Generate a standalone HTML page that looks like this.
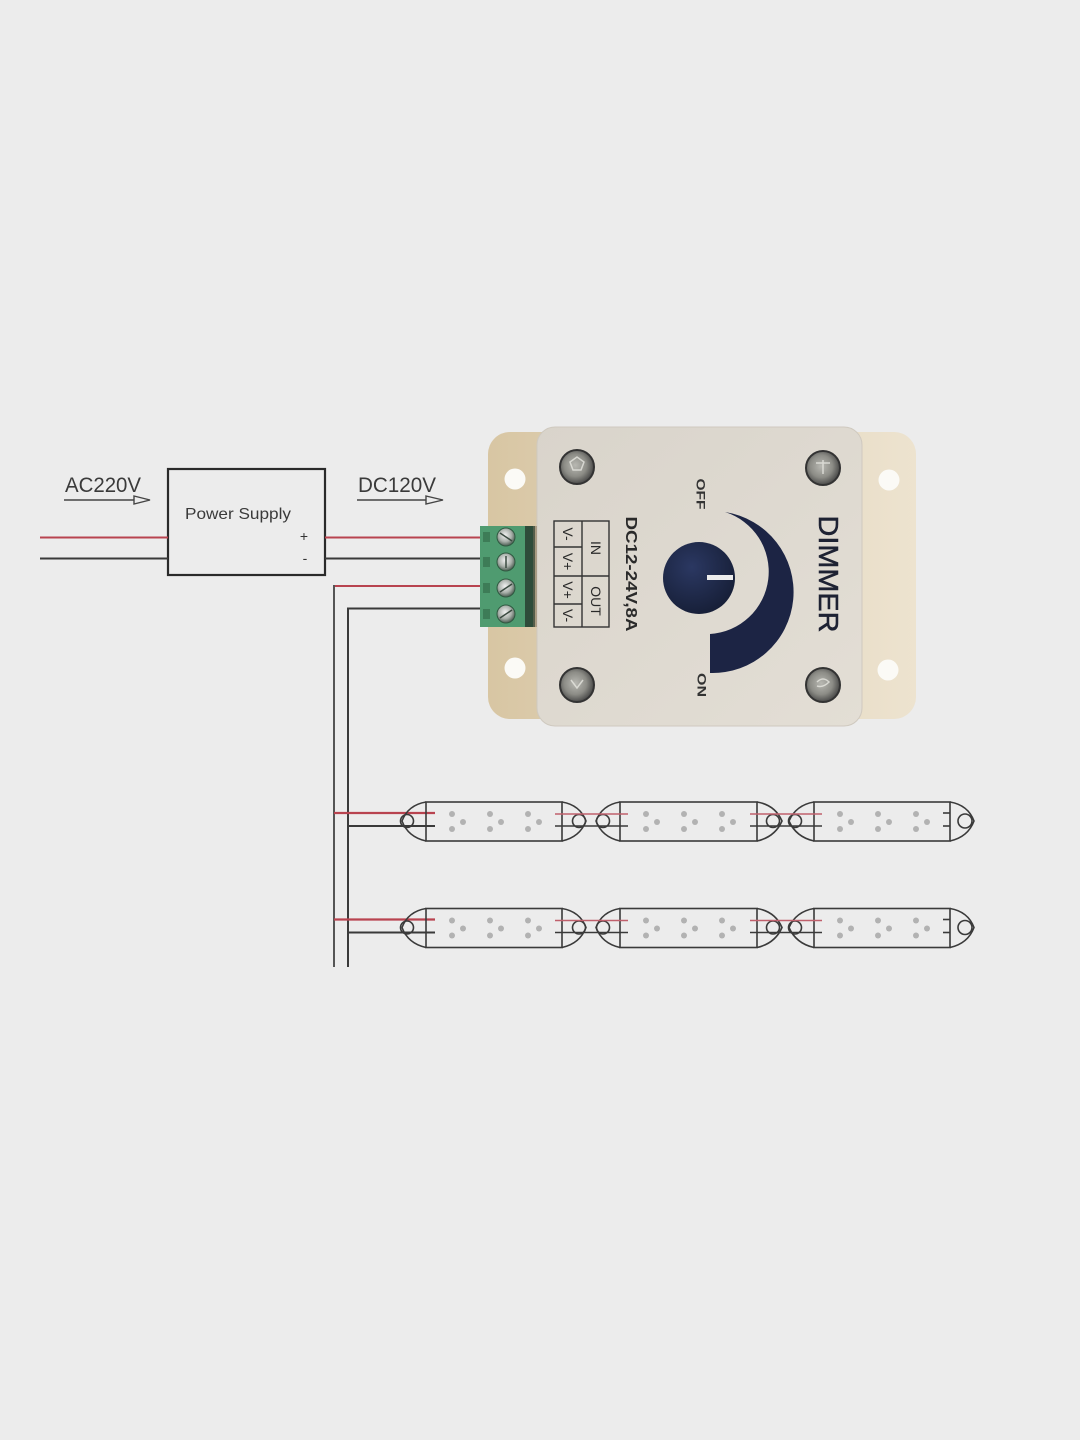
<!DOCTYPE html>
<html><head><meta charset="utf-8"><style>
html,body{margin:0;padding:0;background:#ececec;}
svg{display:block;}
text{font-family:"Liberation Sans",Arial,sans-serif;}
</style></head><body>
<svg width="1080" height="1440" viewBox="0 0 1080 1440" xmlns="http://www.w3.org/2000/svg">
<defs>
<linearGradient id="fl" x1="0" y1="0" x2="1" y2="0">
<stop offset="0" stop-color="#d8c6a3"/><stop offset="0.5" stop-color="#e2d5bd"/><stop offset="1" stop-color="#ede3cf"/>
</linearGradient>
<linearGradient id="bd" x1="0" y1="0" x2="1" y2="1">
<stop offset="0" stop-color="#d9d4cb"/><stop offset="1" stop-color="#e3ded5"/>
</linearGradient>
<radialGradient id="sc" cx="0.45" cy="0.45" r="0.6">
<stop offset="0" stop-color="#b8b8b2"/><stop offset="0.55" stop-color="#8c8c86"/><stop offset="1" stop-color="#3c3c3c"/>
</radialGradient>
<radialGradient id="ts" cx="0.45" cy="0.4" r="0.6">
<stop offset="0" stop-color="#f2f2f2"/><stop offset="0.6" stop-color="#a9b0aa"/><stop offset="1" stop-color="#4a5a50"/>
</radialGradient>
<radialGradient id="kn" cx="0.4" cy="0.35" r="0.7">
<stop offset="0" stop-color="#2b3862"/><stop offset="1" stop-color="#161e36"/>
</radialGradient>
</defs>
<rect width="1080" height="1440" fill="#ececec"/>

<!-- AC / DC labels & arrows -->
<text x="65" y="492" font-size="21" fill="#3a3a3a" textLength="76" lengthAdjust="spacingAndGlyphs">AC220V</text>
<line x1="64" y1="500" x2="136" y2="500" stroke="#444" stroke-width="1.6"/>
<path d="M134 496 L150 500 L134 504 Z" fill="#ececec" stroke="#444" stroke-width="1.4"/>
<text x="358" y="492" font-size="21" fill="#3a3a3a" textLength="78" lengthAdjust="spacingAndGlyphs">DC120V</text>
<line x1="357" y1="500" x2="428" y2="500" stroke="#444" stroke-width="1.6"/>
<path d="M426 496 L443 500 L426 504 Z" fill="#ececec" stroke="#444" stroke-width="1.4"/>

<!-- Power supply -->
<rect x="168" y="469" width="157" height="106" fill="none" stroke="#2a2a2a" stroke-width="2.2"/>
<text x="185" y="519" font-size="16" fill="#3a3a3a" textLength="106" lengthAdjust="spacingAndGlyphs">Power Supply</text>
<text x="304" y="541" font-size="14" fill="#333" text-anchor="middle">+</text>
<text x="305" y="563" font-size="14" fill="#333" text-anchor="middle">-</text>

<!-- input wires -->
<line x1="40" y1="537.5" x2="168" y2="537.5" stroke="#b8434f" stroke-width="2"/>
<line x1="40" y1="558.5" x2="168" y2="558.5" stroke="#3a3a3a" stroke-width="2"/>
<!-- output wires -->
<line x1="325" y1="537.5" x2="482" y2="537.5" stroke="#b8434f" stroke-width="2"/>
<line x1="325" y1="558.5" x2="482" y2="558.5" stroke="#3a3a3a" stroke-width="2"/>
<path d="M482 586 L334 586" stroke="#b8434f" stroke-width="2" fill="none"/>
<path d="M334 585 L334 967" stroke="#555" stroke-width="2" fill="none"/>
<path d="M482 608.5 L348 608.5 L348 967" stroke="#3a3a3a" stroke-width="2" fill="none"/>

<!-- Dimmer -->
<rect x="488" y="432" width="428" height="287" rx="22" fill="url(#fl)"/>
<rect x="537" y="427" width="325" height="299" rx="18" fill="url(#bd)" stroke="#cfc9bf" stroke-width="1"/>
<circle cx="515" cy="479" r="10.5" fill="#fbfaf6"/>
<circle cx="889" cy="480" r="10.5" fill="#fbfaf6"/>
<circle cx="515" cy="668" r="10.5" fill="#fbfaf6"/>
<circle cx="888" cy="670" r="10.5" fill="#fbfaf6"/>
<g stroke="#333" stroke-width="2">
<circle cx="577" cy="467" r="17" fill="url(#sc)"/>
<circle cx="823" cy="468" r="17" fill="url(#sc)"/>
<circle cx="577" cy="685" r="17" fill="url(#sc)"/>
<circle cx="823" cy="685" r="17" fill="url(#sc)"/>
</g>
<g stroke="#e6e6e0" stroke-width="1.5" fill="none" opacity="0.8">
<path d="M570 462 l7 -5 l7 5 l-3 8 h-8 z"/>
<path d="M816 463 h14 M823 460 v14"/>
<path d="M571 680 l6 8 l6 -8"/>
<path d="M817 682 q6 -6 12 0 q-6 6 -12 4"/>
</g>

<!-- terminal block -->
<rect x="480" y="526" width="46" height="101" fill="#4f9b70"/>
<rect x="525" y="526" width="10" height="101" fill="#2e4c3a"/>
<rect x="533" y="526" width="4" height="101" fill="#7a6e5a" opacity="0.5"/>
<g fill="#3d7c57">
<rect x="483" y="532" width="7" height="10"/>
<rect x="483" y="557" width="7" height="10"/>
<rect x="483" y="583" width="7" height="10"/>
<rect x="483" y="609" width="7" height="10"/>
</g>
<g stroke="#2f5a41" stroke-width="1">
<circle cx="506" cy="537" r="9" fill="url(#ts)"/>
<circle cx="506" cy="562" r="9" fill="url(#ts)"/>
<circle cx="506" cy="588" r="9" fill="url(#ts)"/>
<circle cx="506" cy="614" r="9" fill="url(#ts)"/>
</g>
<g stroke="#3a4a40" stroke-width="1.5">
<line x1="500" y1="533" x2="512" y2="541"/>
<line x1="506" y1="556" x2="506" y2="568"/>
<line x1="500" y1="592" x2="512" y2="584"/>
<line x1="500" y1="618" x2="512" y2="610"/>
</g>

<!-- table -->
<g stroke="#333" stroke-width="1.4" fill="none">
<rect x="554" y="521" width="55" height="106"/>
<line x1="582" y1="521" x2="582" y2="627"/>
<line x1="554" y1="547" x2="582" y2="547"/>
<line x1="554" y1="576" x2="609" y2="576"/>
<line x1="554" y1="604" x2="582" y2="604"/>
</g>
<g font-size="14" fill="#2a2a2a" text-anchor="middle">
<text transform="translate(596,548) rotate(90)" y="5">IN</text>
<text transform="translate(596,601) rotate(90)" y="5">OUT</text>
<text transform="translate(568,534) rotate(90)" y="5">V-</text>
<text transform="translate(568,561.5) rotate(90)" y="5">V+</text>
<text transform="translate(568,590) rotate(90)" y="5">V+</text>
<text transform="translate(568,615.5) rotate(90)" y="5">V-</text>
</g>
<text transform="translate(632,574) rotate(90)" y="6" font-size="16" font-weight="bold" fill="#2a2a2a" text-anchor="middle" textLength="115" lengthAdjust="spacingAndGlyphs">DC12-24V,8A</text>
<text transform="translate(701,494) rotate(90)" y="4.5" font-size="12" font-weight="bold" fill="#333" text-anchor="middle" textLength="31" lengthAdjust="spacingAndGlyphs">OFF</text>
<text transform="translate(702,685) rotate(90)" y="4.5" font-size="12" font-weight="bold" fill="#333" text-anchor="middle" textLength="24" lengthAdjust="spacingAndGlyphs">ON</text>
<text transform="translate(829,574) rotate(90)" y="10" font-size="28" fill="#1e2233" stroke="#1e2233" stroke-width="0.5" text-anchor="middle" textLength="117" lengthAdjust="spacingAndGlyphs">DIMMER</text>

<!-- crescent & knob -->
<path d="M725 512 A81 81 0 0 1 710 673 L710 634 A62.5 62.5 0 0 0 725 512 Z" fill="#1c2444"/>
<circle cx="699" cy="578" r="36" fill="url(#kn)"/>
<rect x="707" y="575" width="26" height="5" fill="#ececec"/>

<!-- LED strips -->
<g id="row1">
<line x1="334" y1="813" x2="435" y2="813" stroke="#b8434f" stroke-width="2.2"/>
<line x1="348" y1="826" x2="435" y2="826" stroke="#3a3a3a" stroke-width="2"/>
<g stroke="#3a3a3a" stroke-width="1.6" fill="none">
<rect x="426" y="802" width="136" height="39"/>
<rect x="620" y="802" width="137" height="39"/>
<rect x="814" y="802" width="136" height="39"/>
<path d="M426 802 Q408 805 402 821 Q408 837 426 841"/>
<path d="M562 802 Q580 805 586 821 Q580 837 562 841"/>
<path d="M620 802 Q602 805 596 821 Q602 837 620 841"/>
<path d="M757 802 Q775 805 782 821 Q775 837 757 841"/>
<path d="M814 802 Q796 805 789 821 Q796 837 814 841"/>
<path d="M950 802 Q968 805 974 821 Q968 837 950 841"/>
<circle cx="407" cy="821" r="6.5"/>
<circle cx="579" cy="821" r="6.5"/>
<circle cx="603" cy="821" r="6.5"/>
<circle cx="773" cy="821" r="6.5"/>
<circle cx="795" cy="821" r="6.5"/>
<circle cx="965" cy="821" r="7"/>
<line x1="555" y1="826" x2="628" y2="826"/>
<line x1="750" y1="826" x2="822" y2="826"/>
<line x1="943" y1="813" x2="950" y2="813"/>
<line x1="943" y1="826" x2="950" y2="826"/>
</g>
<g stroke="#c0606c" stroke-width="1.6">
<line x1="555" y1="814" x2="628" y2="814"/>
<line x1="750" y1="814" x2="822" y2="814"/>
</g>
<g fill="#b2b2b2">
<circle cx="452" cy="814" r="3"/><circle cx="452" cy="829" r="3"/><circle cx="463" cy="822" r="3"/>
<circle cx="490" cy="814" r="3"/><circle cx="490" cy="829" r="3"/><circle cx="501" cy="822" r="3"/>
<circle cx="528" cy="814" r="3"/><circle cx="528" cy="829" r="3"/><circle cx="539" cy="822" r="3"/>
<circle cx="646" cy="814" r="3"/><circle cx="646" cy="829" r="3"/><circle cx="657" cy="822" r="3"/>
<circle cx="684" cy="814" r="3"/><circle cx="684" cy="829" r="3"/><circle cx="695" cy="822" r="3"/>
<circle cx="722" cy="814" r="3"/><circle cx="722" cy="829" r="3"/><circle cx="733" cy="822" r="3"/>
<circle cx="840" cy="814" r="3"/><circle cx="840" cy="829" r="3"/><circle cx="851" cy="822" r="3"/>
<circle cx="878" cy="814" r="3"/><circle cx="878" cy="829" r="3"/><circle cx="889" cy="822" r="3"/>
<circle cx="916" cy="814" r="3"/><circle cx="916" cy="829" r="3"/><circle cx="927" cy="822" r="3"/>
</g>
</g>
<use href="#row1" transform="translate(0,106.5)"/>
</svg>
</body></html>
